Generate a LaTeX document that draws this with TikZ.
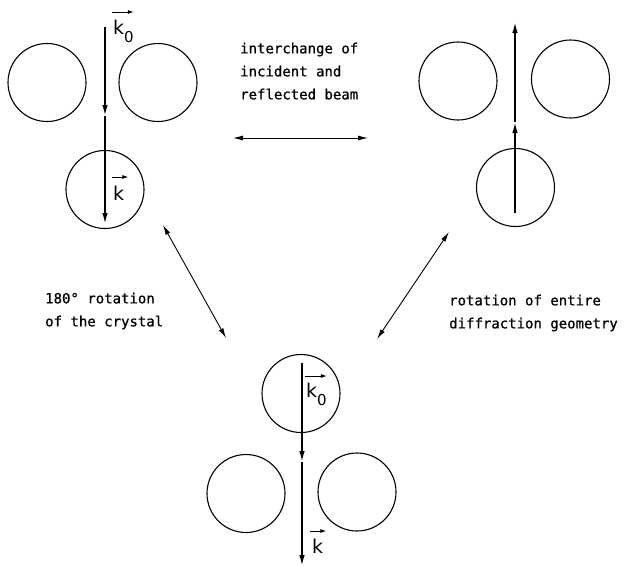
\documentclass[tikz,border=0pt]{standalone}
\usepackage{fontspec}
\setmainfont{DejaVu Sans}
\newfontfamily\plotfont[FakeBold=0.8]{DejaVu Sans Mono}
\usetikzlibrary{arrows.meta}
\begin{document}
\begin{tikzpicture}[x=1pt,y=-1pt,
  atom/.style={draw,circle,line width=1.1pt,minimum size=78pt,inner sep=0pt},
  beam/.style={line width=1.7pt,-{Latex[length=11pt,width=5.5pt]}},
  relation/.style={line width=0.9pt,{Latex[length=10pt,width=5pt]}-{Latex[length=10pt,width=5pt]}},
  caption/.style={font=\plotfont\fontsize{14}{23}\selectfont,align=left,inner sep=0pt,anchor=north west},
  vlabel/.style={font=\fontsize{19}{19}\selectfont,inner sep=0pt,anchor=base west},
  vecbar/.style={line width=1pt,-{Latex[length=6pt,width=4pt]}}]
\useasboundingbox (0,0) rectangle (626,566);
% top left group
\node[atom] (tla) at (47,82.5) {};
\node[atom] (tlb) at (158,82.5) {};
\node[atom] (tlc) at (105,189.5) {};
\coordinate (tls) at (105,27);
\coordinate (tlm) at (105,116);
\coordinate (tle) at (105,224);
\draw[beam] (tls) -- (tlm);
\draw[beam] (tlm) -- (tle);
\node[vlabel] (tlk0) at (113,34) {k\raisebox{-8pt}{\fontsize{15}{15}\selectfont 0}};
\draw[vecbar] ([xshift=-1pt,yshift=22pt]tlk0.base west) -- ([yshift=22pt]tlk0.base east);
\node[vlabel] (tlk) at (113,200) {k};
\draw[vecbar] ([xshift=-1pt,yshift=23pt]tlk.base west) -- ([xshift=4pt,yshift=23pt]tlk.base east);
% top right group
\node[atom] (tra) at (458,81) {};
\node[atom] (trb) at (570.5,79) {};
\node[atom] (trc) at (515.5,187.5) {};
\coordinate (trs) at (515,213);
\coordinate (trm) at (515,122);
\coordinate (tre) at (515,22);
\draw[beam] (trs) -- (trm);
\draw[beam] (trm) -- (tre);
% bottom group
\node[atom] (bma) at (301,393.5) {};
\node[atom] (bmb) at (246,493.5) {};
\node[atom] (bmc) at (357,492) {};
\coordinate (bms) at (302,363);
\coordinate (bmm) at (302,462);
\coordinate (bme) at (302,566);
\draw[beam] (bms) -- (bmm);
\draw[beam] (bmm) -- (bme);
\node[vlabel] (bmk0) at (306,397) {k\raisebox{-8pt}{\fontsize{15}{15}\selectfont 0}};
\draw[vecbar] ([xshift=-1pt,yshift=21pt]bmk0.base west) -- ([yshift=21pt]bmk0.base east);
\node[vlabel] (bmk) at (312,553) {k};
\draw[vecbar] ([xshift=-2pt,yshift=22pt]bmk.base west) -- ([xshift=3pt,yshift=22pt]bmk.base east);
% relations
\coordinate (h1) at (233,138);
\coordinate (h2) at (368,138);
\draw[relation] (h1) -- (h2);
\coordinate (l1) at (163,225);
\coordinate (l2) at (226,338);
\draw[relation] (l1) -- (l2);
\coordinate (r1) at (449,232);
\coordinate (r2) at (377,339);
\draw[relation] (r1) -- (r2);
% captions
\node[caption] (ctop) at (240,42.5) {interchange of\\incident and\\reflected beam};
\node[caption] (cleft) at (45,292.5) {180° rotation\\of the crystal};
\node[caption] (cright) at (449,294.5) {rotation of entire\\diffraction geometry};
\end{tikzpicture}
\end{document}
